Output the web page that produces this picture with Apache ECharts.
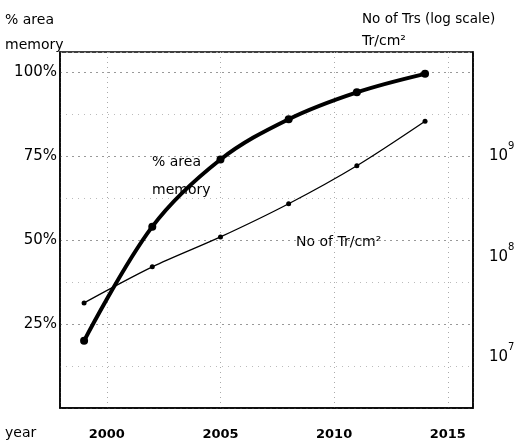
<!DOCTYPE html>
<html>
<head>
<meta charset="utf-8">
<script src="https://cdn.jsdelivr.net/npm/echarts@6/dist/echarts.min.js"></script>
<style>
html, body { margin: 0; padding: 0; background: #fff; }
#chart { width: 515px; height: 443px; }
</style>
</head>
<body>
<div id="chart"></div>
<script>
// years of the two roadmap curves
var years = [1999, 2002, 2005, 2008, 2011, 2014];
// % of chip area used by memory (left axis)
var areaMemory = [20, 54, 74, 86, 94, 99.5];
// transistor density, Tr/cm2 (right axis, log)
var trDensity = [3.2e7, 7.3e7, 1.45e8, 3.1e8, 7.4e8, 2.05e9];

var font = 'DejaVu Sans';
var txt = '14px "DejaVu Sans"';

var myChart = echarts.init(document.getElementById('chart'));

function pairs(xs, ys) {
	return xs.map(function (x, i) { return [x, ys[i]]; });
}

var option = {
	backgroundColor: '#fff',
	animation: false,
	textStyle: { fontFamily: font, color: '#000' },
	grid: {
		left: 60, right: 42, top: 52, bottom: 35,
		outerBoundsMode: 'none',
		show: true,
		borderColor: '#000',
		borderWidth: 1.5
	},
	xAxis: {
		type: 'value',
		min: 1997.94,
		max: 2016.11,
		splitNumber: 4,
		axisLine: { show: true, lineStyle: { color: '#000', width: 1.5 } },
		axisTick: { show: false },
		axisLabel: {
			margin: 20,
			fontFamily: font,
			fontSize: 13,
			fontWeight: 'bold',
			color: '#000',
			formatter: function (v) { return v % 5 === 0 ? String(v) : ''; }
		},
		splitLine: { show: true, lineStyle: { color: '#aaa', type: [1, 4] } }
	},
	yAxis: [{
		type: 'value',
		min: 0,
		max: 106,
		interval: 25,
		axisLine: { show: true, lineStyle: { color: '#000', width: 1.5 } },
		axisTick: { show: false },
		axisLabel: {
			margin: 3,
			fontFamily: font,
			fontSize: 15,
			color: '#000',
			formatter: function (v) { return (v === 0 || v % 25 !== 0) ? '' : v + '%'; }
		},
		splitLine: { show: true, lineStyle: { color: '#999', type: [2, 4] } },
		minorTick: { show: false, splitNumber: 2 },
		minorSplitLine: { show: true, lineStyle: { color: '#bbb', type: [1, 5] } }
	}, {
		type: 'log',
		logBase: 10,
		min: Math.pow(10, 6.46),
		max: 1e10,
		axisLine: { show: true, lineStyle: { color: '#000', width: 1.5 } },
		axisTick: { show: false },
		splitLine: { show: false },
		axisLabel: {
			margin: 16,
			fontFamily: font,
			fontSize: 15,
			color: '#000',
			formatter: function (v) {
				var e = Math.log10(v);
				if (Math.abs(e - Math.round(e)) > 0.01 || e > 9.5) return '';
				return '{b|10}{sup|' + Math.round(e) + '}';
			},
			rich: {
				b: { fontSize: 15, lineHeight: 22, verticalAlign: 'bottom', fontFamily: font, color: '#000' },
				sup: { fontSize: 10, lineHeight: 10, verticalAlign: 'top', fontFamily: font, color: '#000' }
			}
		}
	}],
	series: [{
		name: '% area memory',
		type: 'line',
		yAxisIndex: 0,
		smooth: 0.35,
		data: pairs(years, areaMemory),
		symbol: 'circle',
		symbolSize: 8,
		itemStyle: { color: '#000' },
		lineStyle: { color: '#000', width: 4 }
	}, {
		name: 'No of Tr/cm2',
		type: 'line',
		yAxisIndex: 1,
		smooth: 0.3,
		data: pairs(years, trDensity),
		symbol: 'circle',
		symbolSize: 5,
		itemStyle: { color: '#000' },
		lineStyle: { color: '#000', width: 1.3 }
	}],
	graphic: [
		{ type: 'text', left: 5, top: 13, style: { text: '% area', font: txt, fill: '#000' } },
		{ type: 'text', left: 5, top: 38, style: { text: 'memory', font: txt, fill: '#000' } },
		{ type: 'text', left: 362, top: 12, style: { text: 'No of Trs (log scale)', font: '13.5px "DejaVu Sans"', fill: '#000' } },
		{ type: 'text', left: 362, top: 34, style: { text: 'Tr/cm²', font: txt, fill: '#000' } },
		{ type: 'text', left: 152, top: 155, style: { text: '% area', font: txt, fill: '#000' } },
		{ type: 'text', left: 152, top: 183, style: { text: 'memory', font: txt, fill: '#000' } },
		{ type: 'text', left: 296, top: 235, style: { text: 'No of Tr/cm²', font: txt, fill: '#000' } },
		{ type: 'text', left: 5, top: 426, style: { text: 'year', font: txt, fill: '#000' } }
	]
};

myChart.setOption(option);
</script>
</body>
</html>
